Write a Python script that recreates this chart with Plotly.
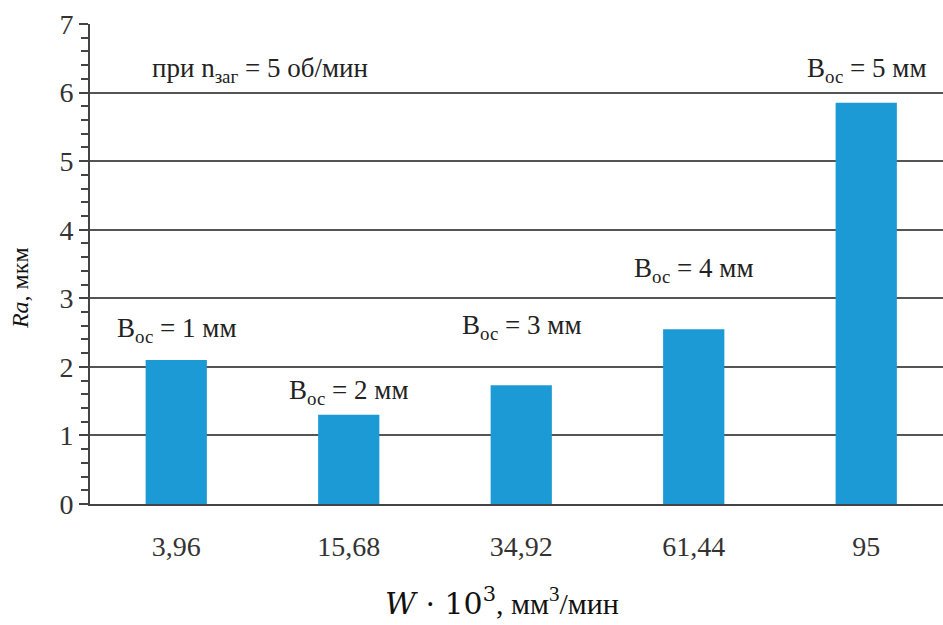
import plotly.graph_objects as go

categories = ["3,96", "15,68", "34,92", "61,44", "95"]
ra_values = [2.10, 1.30, 1.73, 2.55, 5.85]
widths_mm = [1, 2, 3, 4, 5]
y_ticks = [0, 1, 2, 3, 4, 5, 6, 7]

# label vertical offsets of label centres above bar tops (px) - layout only
label_shift = [30, 23, 58, 59, 33]

SERIF = "'Liberation Serif', 'Times New Roman', serif"
MATH = "'DejaVu Serif', serif"
fig = go.Figure()
fig.add_trace(go.Bar(
    x=list(range(len(categories))), y=ra_values,
    marker=dict(color="#1b9ad6", line=dict(width=0)),
    width=0.355, showlegend=False,
))

for i, (v, w) in enumerate(zip(ra_values, widths_mm)):
    fig.add_annotation(
        x=i, y=v, yshift=label_shift[i], yanchor="middle",
        text=f"В<sub>ос</sub> = {w} мм", showarrow=False,
        font=dict(family=SERIF, size=27, color="#222"),
    )

fig.add_annotation(
    x=0.07, xref="paper", y=6.33, yref="y", xanchor="left", yanchor="middle",
    text="при n<sub>заг</sub> = 5 об/мин", showarrow=False,
    font=dict(family=SERIF, size=27, color="#222"),
)

# y-axis title
fig.add_annotation(
    x=-0.082, xref="paper", y=0.45, yref="paper", textangle=-90,
    xanchor="center", yanchor="middle",
    text="<i>Ra</i>, мкм", showarrow=False,
    font=dict(family=SERIF, size=24, color="#111"),
)

# x-axis title
fig.add_annotation(
    x=0.483, xref="paper", y=-0.203, yref="paper",
    xanchor="center", yanchor="middle",
    text=f"<span style=\"font-family:{MATH}\"><i>W</i> · 10<sup>3</sup></span>, мм<sup>3</sup>/мин",
    showarrow=False,
    font=dict(family=SERIF, size=30, color="#111"),
)

fig.update_layout(
    width=943, height=625,
    margin=dict(l=90, r=0, t=24, b=121),
    paper_bgcolor="white", plot_bgcolor="white",
    bargap=0.6,
)
fig.update_xaxes(
    range=[-0.5, 4.445],
    tickmode="array", tickvals=list(range(len(categories))), ticktext=categories,
    tickfont=dict(family=SERIF, size=28, color="#333"),
    showgrid=False, ticks="", ticklabelstandoff=16,
    showline=True, linecolor="#444", linewidth=2,
    zeroline=False,
)
fig.update_yaxes(
    range=[0, 7], tickmode="array", tickvals=y_ticks,
    tickfont=dict(family=SERIF, size=28, color="#333"),
    ticksuffix="\u2009",
    showgrid=True, gridcolor="#555", gridwidth=2,
    ticks="outside", ticklen=9, tickcolor="#444", tickwidth=2,
    minor=dict(dtick=0.2, ticks="outside", ticklen=7, tickcolor="#444", tickwidth=1.5, showgrid=False),
    showline=True, linecolor="#444", linewidth=2,
    zeroline=False,
)

fig.write_html("out.html")
